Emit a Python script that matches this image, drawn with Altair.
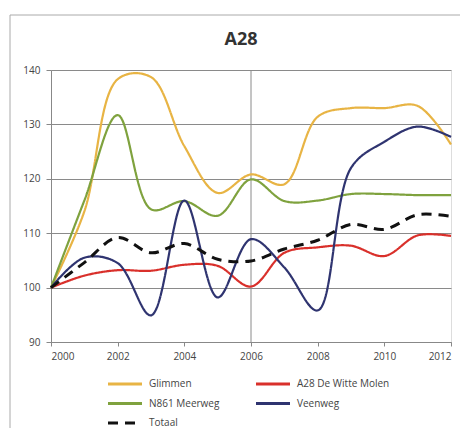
import altair as alt
import pandas as pd

years = list(range(2000, 2013))
glimmen = [100, 114, 138.3, 138.7, 126, 117.4, 120.8, 119, 131.4, 133, 133, 133.4, 126.3]
a28_witte_molen = [100, 102.2, 103.2, 103.1, 104.2, 104, 100.2, 106.4, 107.4, 107.7, 105.8, 109.6, 109.5]
n861_meerweg = [100, 116, 131.7, 114.4, 115.9, 113.2, 119.9, 115.9, 116, 117.2, 117.2, 117, 117]
veenweg = [100, 105.5, 104.5, 94.9, 116, 98.2, 108.9, 103.7, 95.8, 122, 126.8, 129.6, 127.7]
totaal = [100, 104.6, 109.2, 106.4, 108.1, 105.2, 104.9, 107.1, 108.7, 111.6, 110.7, 113.4, 113.1]

series_names = ["Glimmen", "A28 De Witte Molen", "N861 Meerweg", "Veenweg", "Totaal"]
series_values = [glimmen, a28_witte_molen, n861_meerweg, veenweg, totaal]
series_colors = ["#E8B444", "#D9302B", "#7FA23E", "#2F3470", "#111111"]
series_dash = [[1, 0], [1, 0], [1, 0], [1, 0], [10, 7]]

chart_title = "A28"

rows = []
for name, vals in zip(series_names, series_values):
    for y, v in zip(years, vals):
        rows.append({"year": y, "value": v, "series": name})
df = pd.DataFrame(rows)

x_ticks = [2000, 2002, 2004, 2006, 2008, 2010, 2012]
y_ticks = [90, 100, 110, 120, 130, 140]
vgrid_years = [2006]

font = "Open Sans"

xscale = alt.Scale(domain=[2000, 2012], nice=False)
yscale = alt.Scale(domain=[90, 140], nice=False)

legend = alt.Legend(title=None, orient="none", legendX=64, legendY=304,
                    columns=2, columnPadding=30, rowPadding=3.5,
                    symbolType="M-2,0H2", symbolSize=289, symbolStrokeWidth=3,
                    labelFontSize=10, labelColor="#444", labelFont=font,
                    labelOffset=14, direction="horizontal")

lines = alt.Chart(df).mark_line(interpolate="catmull-rom").encode(
    x=alt.X("year:Q", scale=xscale, axis=alt.Axis(
        values=x_ticks, format="d", title=None, grid=False,
        tickSize=4, labelPadding=5, labelFontSize=10, labelColor="#444",
        domainColor="#888", tickColor="#888", labelFont=font)),
    y=alt.Y("value:Q", scale=yscale, axis=alt.Axis(
        values=y_ticks, title=None, grid=True, gridColor="#8a8a8a",
        tickSize=5, labelPadding=6, labelFontSize=10, labelColor="#444",
        domainColor="#888", tickColor="#888", labelFont=font)),
    color=alt.Color("series:N", scale=alt.Scale(domain=series_names, range=series_colors),
                    legend=legend),
    strokeDash=alt.StrokeDash("series:N", scale=alt.Scale(domain=series_names, range=series_dash),
                              legend=legend),
    strokeWidth=alt.condition(alt.datum.series == "Totaal", alt.value(3), alt.value(2.2)),
)

vgrid = alt.Chart(pd.DataFrame({"year": vgrid_years})).mark_rule(color="#8a8a8a", strokeWidth=1).encode(
    x=alt.X("year:Q", scale=xscale)
)

frame_left = alt.Chart(pd.DataFrame({"a": [0]})).mark_rule(color="#aaa", strokeWidth=1, clip=False).encode(
    x=alt.value(-41), y=alt.value(-55), y2=alt.value(400)
)
frame_top = alt.Chart(pd.DataFrame({"a": [0]})).mark_rule(color="#aaa", strokeWidth=1, clip=False).encode(
    x=alt.value(-41), x2=alt.value(420), y=alt.value(-55)
)

title_text = alt.Chart(pd.DataFrame({"t": [chart_title]})).mark_text(
    font=font, fontSize=18, fontWeight="bold", color="#333", align="center", baseline="middle", clip=False
).encode(text="t:N", x=alt.value(190), y=alt.value(-30))

chart = alt.layer(frame_left, frame_top, vgrid, lines, title_text).properties(
    width=400, height=272,
    autosize=alt.AutoSizeParams(type="none"),
    padding={"left": 43, "top": 62, "right": 9, "bottom": 86},
).configure_view(stroke="#8a8a8a", strokeWidth=1).configure(background="white")

chart.save("out.html", embed_options={"renderer": "svg", "actions": False})
